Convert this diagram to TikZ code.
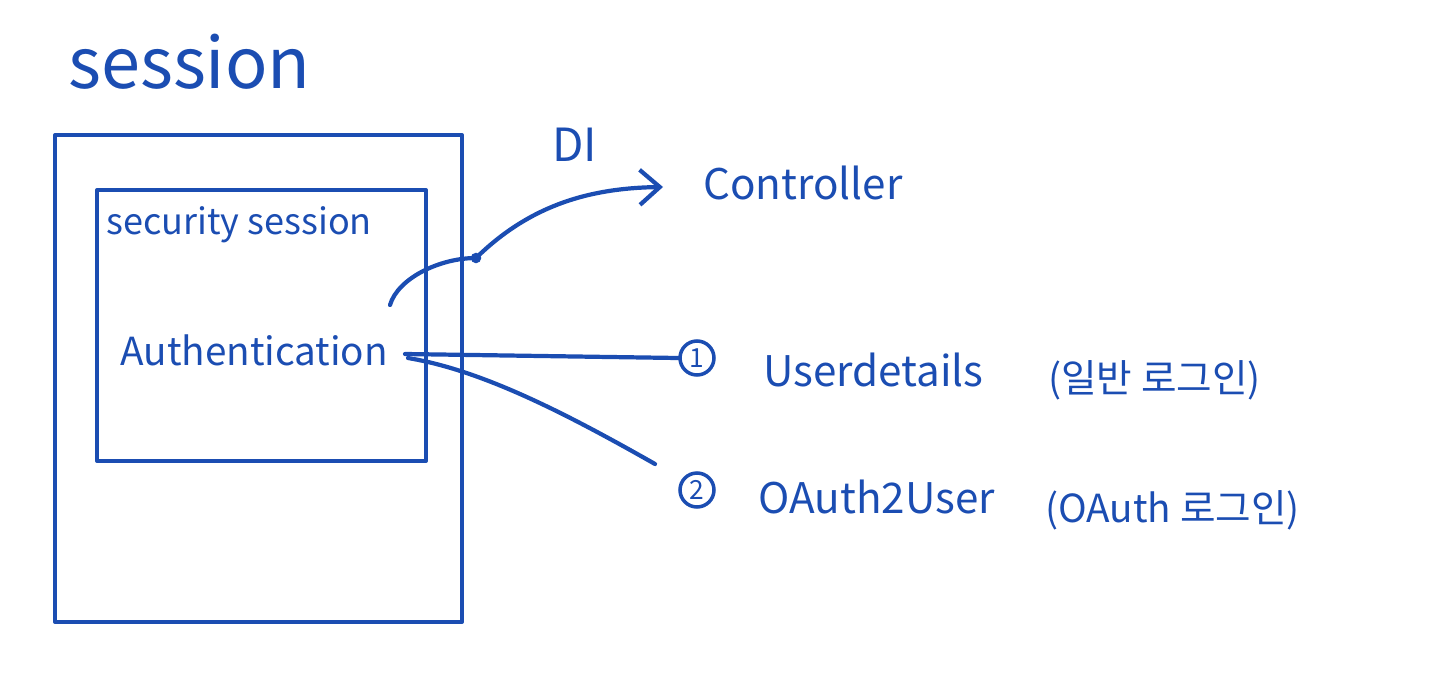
\documentclass[tikz,border=0pt]{standalone}
\usepackage{fontspec}
\setmainfont{Noto Sans CJK KR}
\usetikzlibrary{arrows.meta}
\definecolor{pen}{HTML}{1B4DB2}
\begin{document}
\begin{tikzpicture}[x=0.02cm,y=-0.02cm,
  ink/.style={draw=pen,line width=2.4pt,line cap=round,line join=round},
  label/.style={text=pen,inner sep=0pt,anchor=west},
  num/.style={circle,draw=pen,line width=2pt,text=pen,inner sep=0pt,minimum size=0.68cm,font=\fontsize{15}{17}\selectfont}]
\useasboundingbox (0,0) rectangle (1440,687);
% boxes
\node[ink,minimum width=8.14cm,minimum height=9.74cm,inner sep=0pt] (outer) at (258.5,378.5) {};
\node[ink,minimum width=6.58cm,minimum height=5.42cm,inner sep=0pt] (inner) at (261.5,325.5) {};
% texts
\node[label,font=\fontsize{40}{44}\selectfont] (sess) at (68,62) {session};
\node[label,font=\fontsize{20.5}{22}\selectfont] (sec) at (106,225) {security session};
\node[label,font=\fontsize{22}{24}\selectfont] (auth) at (120,350) {Authentication};
\node[label,font=\fontsize{26}{28}\selectfont] (di) at (552,145) {DI};
\node[label,font=\fontsize{24}{28}\selectfont] (ctrl) at (703,183) {Controller};
\node[num] (c1) at (697,358) {1};
\node[label,font=\fontsize{24}{26}\selectfont] (ud) at (763,370) {Userdetails};
\node[label,font=\fontsize{22}{26}\selectfont] (udk) at (1048,380) {(일반 로그인)};
\node[num] (c2) at (697,490) {2};
\node[label,font=\fontsize{24}{26}\selectfont] (oa) at (758,497) {OAuth2User};
\node[label,font=\fontsize{22}{26}\selectfont] (oak) at (1045,510) {(OAuth 로그인)};
% connectors
\coordinate (hook) at (390,305);
\coordinate (knot) at (476,258);
\coordinate (tip) at (663,187);
\coordinate (a1) at (405,354);
\coordinate (a2) at (408,358);
\draw[ink] (hook) .. controls (398,278) and (440,258) .. (knot);
\fill[pen] (knot) circle (3pt);
\draw[ink,-{Straight Barb[length=4mm,width=7mm,line width=2.4pt]}] (knot) .. controls (530,205) and (590,188) .. (tip);
\draw[ink] (a1) -- (c1.west);
\draw[ink] (a2) .. controls (480,370) and (560,410) .. (655,464);
\end{tikzpicture}
\end{document}
